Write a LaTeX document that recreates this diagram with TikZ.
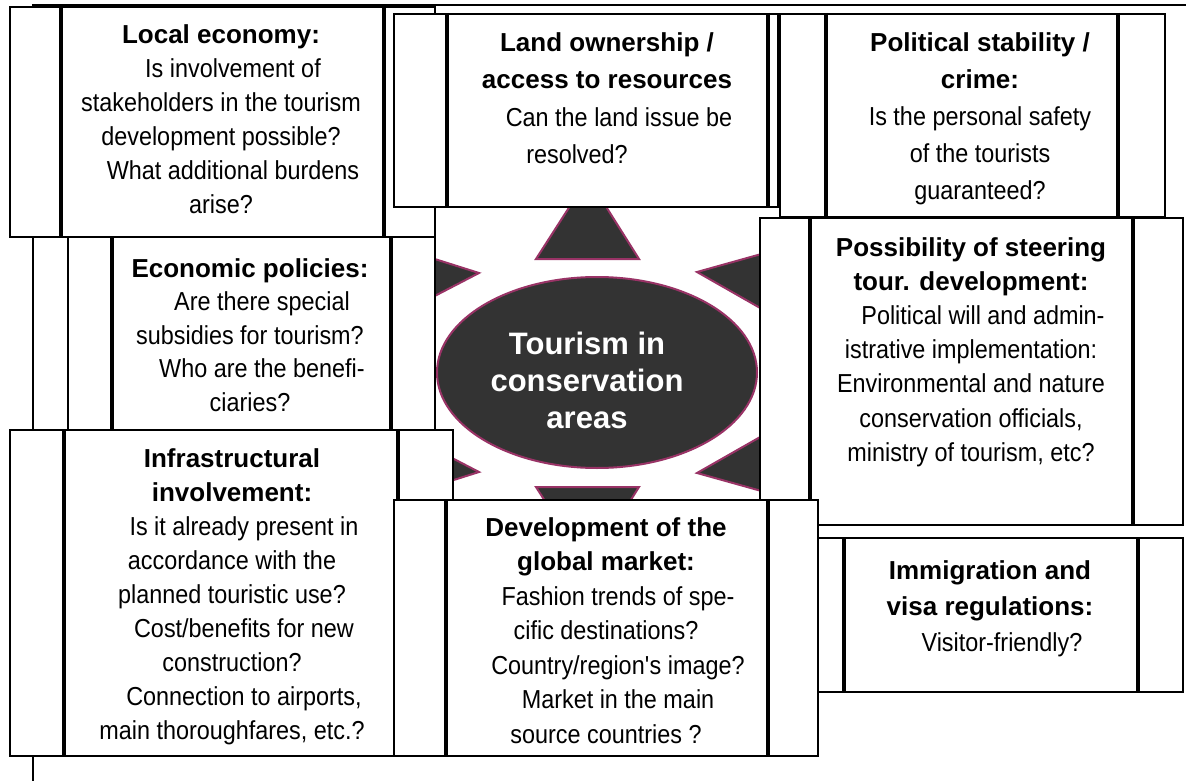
\documentclass[tikz,border=0pt]{standalone}
\usepackage{fontspec}
\setmainfont{Liberation Sans}
\newfontfamily\narrowfont{Liberation Sans}[FakeStretch=0.9]
\usetikzlibrary{shapes.geometric}
\definecolor{sundark}{RGB}{51,51,51}
\definecolor{sunrim}{RGB}{153,51,102}
\newcommand{\hd}[1]{{\rmfamily\bfseries #1}}
\newcommand{\qi}{\hspace*{24pt}}
\newcommand{\bars}[3]{%
  \draw[barline] ([xshift=#2]#1.north west) -- ([xshift=#2]#1.south west);
  \draw[barline] ([xshift=-#3]#1.north east) -- ([xshift=-#3]#1.south east);}

\begin{document}
\begin{tikzpicture}[
  x=1pt, y=-1pt,
  pbox/.style 2 args={draw, fill=white, line width=2pt, inner sep=0pt,
                      minimum width=#1, minimum height=#2},
  barline/.style={line width=3.6pt},
  frameline/.style={line width=1.8pt},
  qtext/.style={font=\narrowfont\fontsize{26}{#1}\selectfont,
                align=center, inner sep=0pt, anchor=north},
  qtext/.default=34,
  sunray/.style={fill=sundark, draw=sunrim, line width=2pt},
  hub/.style={ellipse, fill=sundark, draw=sunrim, line width=2pt,
              minimum width=320pt, minimum height=191pt, inner sep=0pt},
  hubtext/.style={font=\bfseries\fontsize{31}{37}\selectfont, text=white,
                  align=center, inner sep=0pt, anchor=north}
]
\useasboundingbox (0,0) rectangle (1186,781);

% page frame
\draw[frameline] (33,781) -- (33,5) -- (1186,5);

% centre: sun
\draw[sunray] (536,259) -- (639,259) -- (588,178) -- cycle;
\draw[sunray] (536,487) -- (639,487) -- (588,568) -- cycle;
\draw[sunray] (479,273) -- (400,248) -- (400,314) -- cycle;
\draw[sunray] (697,272) -- (790,246) -- (790,325) -- cycle;
\draw[sunray] (479,472) -- (400,497) -- (400,431) -- cycle;
\draw[sunray] (697,473) -- (790,499) -- (790,420) -- cycle;
\node[hub] (hub) at (597,372.5) {};
\node[hubtext] (hubtxt) at (587,332) {Tourism in\\conservation\\areas};

% factor boxes
\node[pbox={425pt}{230pt}] (econ) at (222.5,122) {};
\bars{econ}{52pt}{52pt}
\node[qtext] (econtxt) at (221,24) {\hd{Local economy:}\\
  \qi Is involvement of\\
  stakeholders in the tourism\\
  development possible?\\
  \qi What additional burdens\\
  arise?};

\node[pbox={384pt}{193pt}] (land) at (586,110.5) {};
\bars{land}{54pt}{11pt}
\node[qtext=37.5] (landtxt) at (607,32) {\hd{Land ownership /}\\
  \hd{access to resources}\\
  \qi Can the land issue be\\
  resolved?\hspace*{60pt}\null};

\node[pbox={385pt}{203pt}] (polit) at (972.5,115.5) {};
\bars{polit}{47pt}{48pt}
\node[qtext=37] (polittxt) at (980,32) {\hd{Political stability /}\\
  \hd{crime:}\\
  Is the personal safety\\
  of the tourists\\
  guaranteed?};

\node[pbox={367pt}{193pt}] (policy) at (251.5,333.5) {};
\bars{policy}{45pt}{45pt}
\node[qtext=33.5] (policytxt) at (250,258) {\hd{Economic policies:}\\
  \qi Are there special\\
  subsidies for tourism?\\
  \qi Who are the benefi-\\
  ciaries?};

\node[pbox={423pt}{307pt}] (steer) at (971.5,371.5) {};
\bars{steer}{51pt}{51pt}
\node[qtext=34.2] (steertxt) at (971,237) {\hd{Possibility of steering}\\
  \hd{tour. development:}\\
  \qi Political will and admin-\\
  istrative implementation:\\
  Environmental and nature\\
  conservation officials,\\
  ministry of tourism, etc?};

\node[pbox={443pt}{326pt}] (infra) at (231.5,593) {};
\bars{infra}{55pt}{56pt}
\node[qtext] (infratxt) at (232,448) {\hd{Infrastructural}\\
  \hd{involvement:}\\
  \qi Is it already present in\\
  accordance with the\\
  planned touristic use?\\
  \qi Cost/benefits for new\\
  construction?\\
  \qi Connection to airports,\\
  main thoroughfares, etc.?};

\node[pbox={424pt}{256pt}] (market) at (606,628) {};
\bars{market}{53pt}{51pt}
\node[qtext=34.5] (markettxt) at (606,517) {\hd{Development of the}\\
  \hd{global market:}\\
  \qi Fashion trends of spe-\\
  cific destinations?\\
  \qi Country/region\textquotesingle s image?\\
  \qi Market in the main\\
  source countries ?};

\node[pbox={365pt}{154pt}] (visa) at (1000.5,615) {};
\bars{visa}{27pt}{46pt}
\node[qtext=36] (visatxt) at (990,560) {\hd{Immigration and}\\
  \hd{visa regulations:}\\
  \qi Visitor-friendly?};
\end{tikzpicture}
\end{document}
